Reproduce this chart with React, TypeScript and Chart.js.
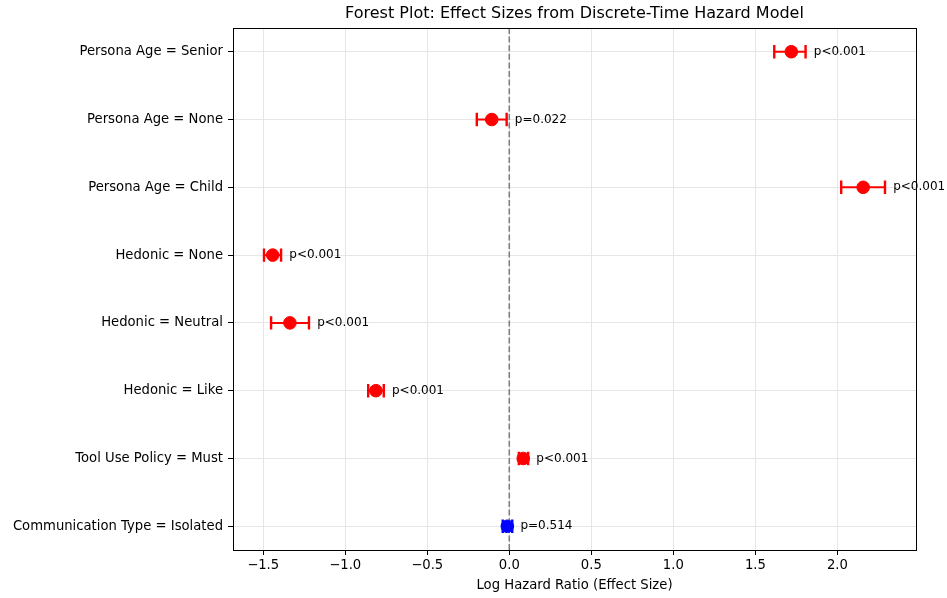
import React, { useEffect, useRef } from "react";
import { Chart, registerables } from "chart.js";

Chart.register(...registerables);

const categories = [
  "Communication Type = Isolated",
  "Tool Use Policy = Must",
  "Hedonic = Like",
  "Hedonic = Neutral",
  "Hedonic = None",
  "Persona Age = Child",
  "Persona Age = None",
  "Persona Age = Senior",
];
const estimates = [-0.012, 0.085, -0.813, -1.337, -1.442, 2.157, -0.107, 1.719];
const ciLower = [-0.04, 0.058, -0.86, -1.452, -1.495, 2.023, -0.198, 1.615];
const ciUpper = [0.018, 0.115, -0.765, -1.221, -1.391, 2.29, -0.016, 1.806];
const pLabels = ["p=0.514", "p<0.001", "p<0.001", "p<0.001", "p<0.001", "p<0.001", "p=0.022", "p<0.001"];
const pointColors = ["#0000ff", "#ff0000", "#ff0000", "#ff0000", "#ff0000", "#ff0000", "#ff0000", "#ff0000"];
const xTicks = [-1.5, -1.0, -0.5, 0.0, 0.5, 1.0, 1.5, 2.0];
const xMin = -1.684;
const xMax = 2.479;
const yMin = -0.35;
const yMax = 7.35;
const textOffset = 0.05;
const titleText = "Forest Plot: Effect Sizes from Discrete-Time Hazard Model";
const xLabel = "Log Hazard Ratio (Effect Size)";

const FONT = "'DejaVu Sans', sans-serif";

const forestPlugin = {
  id: "forest",
  beforeDatasetsDraw(chart: any) {
    const { ctx, chartArea } = chart;
    const xs = chart.scales.x;
    const ys = chart.scales.y;
    ctx.save();
    // zero reference line
    ctx.strokeStyle = "#808080";
    ctx.lineWidth = 1.6;
    ctx.setLineDash([6, 2.6]);
    const x0 = xs.getPixelForValue(0);
    ctx.beginPath();
    ctx.moveTo(x0, chartArea.top);
    ctx.lineTo(x0, chartArea.bottom);
    ctx.stroke();
    ctx.setLineDash([]);
    // error bars
    for (let i = 0; i < categories.length; i++) {
      const y = ys.getPixelForValue(i);
      const xl = xs.getPixelForValue(ciLower[i]);
      const xu = xs.getPixelForValue(ciUpper[i]);
      ctx.strokeStyle = pointColors[i];
      ctx.lineWidth = 2;
      ctx.beginPath();
      ctx.moveTo(xl, y);
      ctx.lineTo(xu, y);
      ctx.stroke();
      ctx.lineWidth = 2.4;
      ctx.beginPath();
      ctx.moveTo(xl, y - 6.7);
      ctx.lineTo(xl, y + 6.7);
      ctx.moveTo(xu, y - 6.7);
      ctx.lineTo(xu, y + 6.7);
      ctx.stroke();
    }
    ctx.restore();
  },
  afterDatasetsDraw(chart: any) {
    const { ctx, chartArea } = chart;
    const xs = chart.scales.x;
    const ys = chart.scales.y;
    ctx.save();
    ctx.fillStyle = "#000";
    ctx.font = `12px ${FONT}`;
    ctx.textAlign = "left";
    ctx.textBaseline = "middle";
    for (let i = 0; i < categories.length; i++) {
      ctx.fillText(pLabels[i], xs.getPixelForValue(ciUpper[i] + textOffset), ys.getPixelForValue(i));
    }
    // box
    ctx.strokeStyle = "#000";
    ctx.lineWidth = 1;
    ctx.strokeRect(
      Math.round(chartArea.left) + 0.5,
      Math.round(chartArea.top) + 0.5,
      Math.round(chartArea.right - chartArea.left),
      Math.round(chartArea.bottom - chartArea.top)
    );
    // title
    ctx.font = `16px ${FONT}`;
    ctx.textAlign = "center";
    ctx.textBaseline = "middle";
    ctx.fillText(titleText, (chartArea.left + chartArea.right) / 2, 14);
    ctx.restore();
  },
};

export default function App() {
  const ref = useRef<HTMLCanvasElement>(null);
  useEffect(() => {
    if (!ref.current) return;
    const chart = new Chart(ref.current, {
      type: "scatter",
      data: {
        datasets: [
          {
            data: estimates.map((v, i) => ({ x: v, y: i })),
            pointBackgroundColor: pointColors,
            pointBorderColor: pointColors,
            pointRadius: 6.3,
            pointHoverRadius: 6.3,
          },
        ],
      },
      options: {
        animation: false,
        responsive: false,
        devicePixelRatio: 1,
        layout: { padding: { top: 28, right: 31, left: 0, bottom: 0 } },
        plugins: { legend: { display: false }, tooltip: { enabled: false }, title: { display: false } },
        scales: {
          x: {
            type: "linear",
            min: xMin,
            max: xMax,
            afterBuildTicks: (s: any) => {
              s.ticks = xTicks.map((v) => ({ value: v }));
            },
            afterFit: (s: any) => {
              s.height = 48;
            },
            ticks: {
              color: "#000",
              font: { family: FONT, size: 13.2 },
              padding: 3,
              maxRotation: 0,
              autoSkip: false,
              callback: (v: any) => Number(v).toFixed(1).replace("-", "\u2212"),
            },
            grid: { color: "#e6e6e6", lineWidth: 1, tickColor: "#000", tickLength: 5, drawTicks: true },
            border: { display: true, color: "#000", width: 1 },
            title: {
              display: true,
              text: xLabel,
              color: "#000",
              font: { family: FONT, size: 13.2 },
              padding: { top: 0, bottom: 5 },
            },
          },
          y: {
            type: "linear",
            min: yMin,
            max: yMax,
            afterBuildTicks: (s: any) => {
              s.ticks = categories.map((_, i) => ({ value: i }));
            },
            afterFit: (s: any) => {
              s.width = 233;
            },
            ticks: {
              color: "#000",
              font: { family: FONT, size: 13.2 },
              padding: 5,
              autoSkip: false,
              callback: (v: any) => categories[Math.round(Number(v))] ?? "",
            },
            grid: { color: "#e6e6e6", lineWidth: 1, tickColor: "#000", tickLength: 5, drawTicks: true },
            border: { display: true, color: "#000", width: 1 },
          },
        },
      },
      plugins: [forestPlugin],
    });
    return () => chart.destroy();
  }, []);
  return (
    <div style={{ position: "absolute", left: 0, top: 0, width: 947, height: 598, background: "#fff" }}>
      <canvas ref={ref} width={947} height={598} />
    </div>
  );
}
